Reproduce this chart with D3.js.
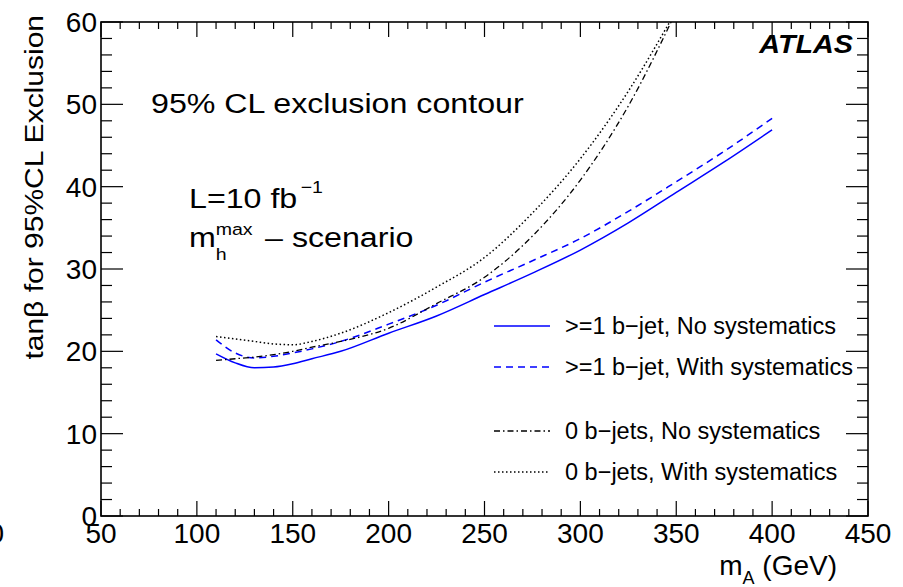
<!DOCTYPE html>
<html><head><meta charset="utf-8">
<script src="https://cdn.jsdelivr.net/npm/d3@7"></script>
<style>
body{margin:0;background:#fff;}
text{font-family:"Liberation Sans",Arial,Helvetica,sans-serif;fill:#000;}
</style></head>
<body>
<svg id="c" width="903" height="587"></svg>
<script>
// ---- data ----
const massB1 = [110,120,130,140,150,160,175,200,225,250,275,300,325,350,375,400];
const bjetNoSyst   = [19.7,18.6,18.0,18.1,18.5,19.1,20.0,22.2,24.3,26.9,29.5,32.3,35.6,39.3,43.0,46.9];
const bjetWithSyst = [21.4,19.8,19.2,19.4,19.8,20.3,21.2,23.3,25.6,28.4,31.0,33.7,37.0,40.6,44.3,48.3];
const mass0b = [110,120,130,140,150,160,175,200,225,250,275,300,325,350];
const nobjetNoSyst   = [18.9,19.1,19.3,19.6,20.0,20.5,21.2,22.8,25.8,29.0,34.0,40.8,49.8,61.3];
const nobjetWithSyst = [21.8,21.5,21.2,20.9,20.8,21.2,22.2,24.7,27.8,31.4,36.8,43.4,51.6,61.4];
const xTicks = [50,100,150,200,250,300,350,400,450];
const yTicks = [0,10,20,30,40,50,60];
const legendLabels = [">=1 b\u2212jet, No systematics", ">=1 b\u2212jet, With systematics", "0 b\u2212jets, No systematics", "0 b\u2212jets, With systematics"];

const svg = d3.select("#c");
const L=101, R=868, T=22, B=516;
const SX = 1.15; // horizontal stretch of some reference texts
const x = d3.scaleLinear().domain([50,450]).range([L,R]);
const y = d3.scaleLinear().domain([0,60]).range([B,T]);

svg.append("defs").append("clipPath").attr("id","clip")
  .append("rect").attr("x",L).attr("y",T).attr("width",R-L).attr("height",B-T);

// frame
svg.append("rect").attr("x",L).attr("y",T).attr("width",R-L).attr("height",B-T)
  .attr("fill","none").attr("stroke","#000").attr("stroke-width",1.6);

// ticks
const g = svg.append("g").attr("stroke","#000").attr("stroke-width",1.2);
d3.range(50,451,10).forEach(v=>{
  const major = v%50===0;
  const len = major?15:7;
  g.append("line").attr("x1",x(v)).attr("x2",x(v)).attr("y1",B).attr("y2",B-len);
  g.append("line").attr("x1",x(v)).attr("x2",x(v)).attr("y1",T).attr("y2",T+len);
});
d3.range(0,61,2).forEach(v=>{
  const major = v%10===0;
  const len = major?22:11;
  g.append("line").attr("y1",y(v)).attr("y2",y(v)).attr("x1",L).attr("x2",L+len);
  g.append("line").attr("y1",y(v)).attr("y2",y(v)).attr("x1",R).attr("x2",R-len);
});

// tick labels
xTicks.forEach(v=>{
  svg.append("text").attr("x",x(v)).attr("y",543).attr("text-anchor","middle")
    .attr("font-size",28).text(v);
});
yTicks.forEach(v=>{
  svg.append("text").attr("x",97).attr("y",y(v)+10).attr("text-anchor","end")
    .attr("font-size",28).text(v);
});
// cut-off label at far left
svg.append("text").attr("x",4).attr("y",543).attr("text-anchor","end").attr("font-size",28).text("0");

// axis titles
svg.append("text").attr("transform",`translate(43,15) rotate(-90) scale(1.2,1)`)
  .attr("text-anchor","end").attr("font-size",25).text("tan\u03b2 for 95%CL Exclusion");

const xt = svg.append("text").attr("x",837).attr("y",575).attr("text-anchor","end").attr("font-size",28);
xt.append("tspan").text("m");
xt.append("tspan").attr("font-size",18).attr("dy",9).text("A");
xt.append("tspan").attr("dy",-9).text(" (GeV)");

// curves
const line = d3.line().x(d=>x(d[0])).y(d=>y(d[1])).curve(d3.curveMonotoneX);
const series = [
  {m:massB1, v:bjetNoSyst, color:"#0000ff", dash:null, w:1.5},
  {m:massB1, v:bjetWithSyst, color:"#0000ff", dash:"7,5", w:1.5},
  {m:mass0b, v:nobjetNoSyst, color:"#000", dash:"6,3,1.5,3", w:1.3},
  {m:mass0b, v:nobjetWithSyst, color:"#000", dash:"1.5,2.5", w:1.5},
];
const cg = svg.append("g").attr("clip-path","url(#clip)");
series.forEach(s=>{
  cg.append("path").datum(s.m.map((m,i)=>[m,s.v[i]]))
    .attr("d",line).attr("fill","none").attr("stroke",s.color)
    .attr("stroke-width",s.w).attr("stroke-dasharray",s.dash);
});

// legend
const legY = [326,367,431,472];
series.forEach((s,i)=>{
  svg.append("line").attr("x1",494).attr("x2",550).attr("y1",legY[i]).attr("y2",legY[i])
    .attr("stroke",s.color).attr("stroke-width",s.w).attr("stroke-dasharray",s.dash);
  svg.append("text").attr("x",565).attr("y",legY[i]+8).attr("font-size",23.5).text(legendLabels[i]);
});

// annotations (horizontally stretched as in the reference)
svg.append("text").attr("transform",`translate(151,113) scale(${SX},1)`).attr("font-size",28)
  .text("95% CL exclusion contour");
const t1 = svg.append("text").attr("transform",`translate(189,208) scale(${SX},1)`).attr("font-size",28);
t1.append("tspan").text("L=10 fb");
t1.append("tspan").attr("font-size",17).attr("dx",3).attr("dy",-15).text("\u22121");
const t2 = svg.append("text").attr("transform",`translate(189,247) scale(${SX},1)`).attr("font-size",28);
t2.append("tspan").text("m");
t2.append("tspan").attr("font-size",17).attr("dy",13).text("h");
t2.append("tspan").attr("font-size",17).attr("dx",-9.5).attr("dy",-25).text("max");
t2.append("tspan").attr("dx",3).attr("dy",12).text(" \u2013 scenario");

svg.append("text").attr("transform",`translate(853,53) scale(${SX},1)`).attr("text-anchor","end")
  .attr("font-size",25).attr("font-weight","bold").attr("font-style","italic").text("ATLAS");
</script>
</body></html>
